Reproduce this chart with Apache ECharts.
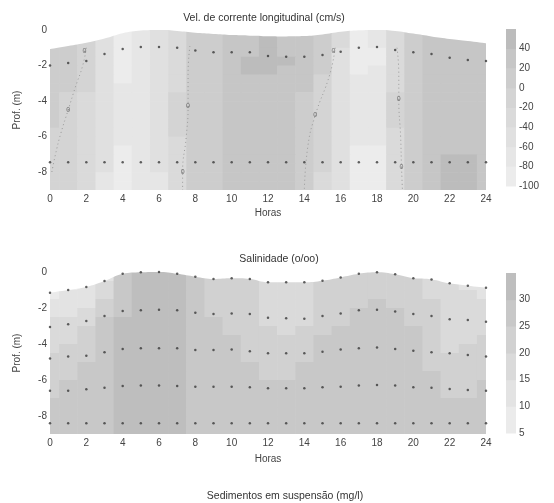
<!DOCTYPE html>
<html>
<head>
<meta charset="utf-8">
<script src="https://cdn.jsdelivr.net/npm/echarts@6/dist/echarts.min.js"></script>
<style>
    html, body { margin: 0; padding: 0; background: #fff; }
    #chart { width: 554px; height: 503px; }
</style>
</head>
<body>
<div id="chart"></div>
<script>
const hours = [0, 1, 2, 3, 4, 5, 6, 7, 8, 9, 10, 11, 12, 13, 14, 15, 16, 17, 18, 19, 20, 21, 22, 23, 24]
// cell centre depths (m), 0.5 m cells
const cellDepths = [-0.25, -0.75, -1.25, -1.75, -2.25, -2.75, -3.25, -3.75, -4.25, -4.75, -5.25, -5.75, -6.25, -6.75, -7.25, -7.75, -8.25, -8.75]
const depthTicks = [0, -2, -4, -6, -8]

// Vel. de corrente longitudinal (cm/s), rows = cellDepths, cols = hours
const velGrid = [
    [10, 6, -8, -48, -85, -76, -56, -28, 5, 18, 28, 38, 40, 38, 28, 4, -40, -85, -80, -30, 10, 24, 32, 30, 26],
    [10, 6, -8, -48, -85, -76, -56, -28, 5, 18, 28, 38, 40, 38, 28, 4, -40, -85, -80, -30, 10, 24, 32, 30, 26],
    [10, 6, -8, -49, -86, -77, -57, -28, 5, 18, 28, 39, 42, 39, 28, 3, -41, -86, -81, -30, 11, 24, 33, 31, 27],
    [10, 5, -10, -50, -88, -78, -58, -28, 5, 18, 28, 41, 44, 40, 28, 2, -42, -88, -82, -30, 12, 25, 35, 33, 28],
    [10, 5, -12, -50, -86, -77, -57, -27, 5, 18, 27, 40, 43, 39, 27, 1, -43, -85, -80, -29, 12, 25, 34, 32, 27],
    [9, 2, -16, -51, -82, -74, -55, -25, 5, 17, 26, 36, 38, 35, 24, -2, -44, -80, -76, -26, 13, 24, 32, 30, 26],
    [8, 0, -20, -52, -75, -70, -52, -22, 5, 16, 25, 32, 35, 32, 20, -5, -45, -72, -70, -22, 14, 24, 30, 28, 25],
    [6, -3, -24, -54, -70, -67, -50, -20, 5, 15, 24, 30, 32, 30, 16, -9, -48, -69, -67, -20, 15, 24, 28, 26, 24],
    [3, -8, -28, -55, -68, -65, -48, -18, 5, 15, 24, 28, 30, 28, 12, -12, -50, -68, -66, -18, 15, 24, 28, 26, 24],
    [2, -9, -28, -55, -68, -65, -48, -18, 5, 15, 24, 28, 30, 28, 12, -13, -50, -68, -66, -18, 15, 24, 28, 26, 24],
    [0, -10, -29, -56, -70, -66, -49, -19, 5, 15, 24, 27, 29, 27, 11, -14, -51, -70, -68, -20, 15, 24, 29, 27, 25],
    [-2, -12, -30, -57, -74, -69, -50, -20, 4, 14, 23, 26, 28, 26, 10, -16, -53, -74, -72, -22, 15, 25, 31, 29, 26],
    [-5, -15, -32, -58, -80, -72, -52, -22, 3, 14, 22, 25, 27, 25, 8, -18, -55, -78, -76, -25, 15, 26, 34, 32, 28],
    [-8, -17, -33, -59, -85, -77, -57, -24, 2, 13, 21, 23, 26, 23, 7, -19, -56, -84, -82, -30, 16, 28, 38, 38, 32],
    [-10, -18, -34, -60, -88, -80, -60, -26, 2, 12, 20, 22, 25, 22, 6, -20, -57, -88, -86, -33, 17, 29, 42, 42, 35],
    [-10, -18, -34, -60, -88, -80, -60, -26, 2, 12, 20, 22, 25, 22, 6, -20, -57, -88, -86, -33, 17, 29, 42, 42, 35],
    [-12, -20, -35, -62, -86, -80, -62, -28, 2, 12, 20, 22, 25, 22, 6, -22, -58, -86, -84, -35, 18, 30, 42, 42, 34],
    [-12, -20, -35, -62, -84, -78, -62, -28, 2, 12, 20, 22, 25, 22, 6, -22, -58, -84, -82, -35, 18, 30, 40, 40, 33]
]

// Salinidade (o/oo)
const salGrid = [
    [8, 8, 10, 14, 28, 32, 32, 31, 26, 24, 23, 22, 19, 18, 18, 20, 22, 23, 24, 23, 21, 19, 16, 14, 13],
    [8, 9, 11, 15, 28, 32, 32, 31, 26, 24, 23, 22, 19, 18, 18, 20, 22, 23, 24, 23, 21, 19, 16, 14, 13],
    [9, 10, 12, 17, 28, 32, 32, 31, 26, 24, 23, 22, 19, 18, 18, 20, 22, 23, 24, 23, 21, 19, 16, 15, 14],
    [11, 12, 14, 20, 28, 32, 32, 31, 26, 24, 23, 22, 19, 17, 18, 20, 22, 24, 25, 24, 22, 20, 16, 15, 15],
    [13, 14, 17, 23, 29, 32, 32, 31, 26, 24, 23, 22, 19, 17, 18, 21, 23, 25, 26, 25, 23, 21, 17, 16, 16],
    [15, 16, 19, 25, 30, 32, 32, 31, 26, 25, 24, 22, 19, 18, 19, 22, 24, 26, 26, 26, 24, 22, 18, 17, 17],
    [16, 18, 21, 26, 31, 32, 32, 31, 27, 25, 24, 22, 20, 19, 21, 24, 26, 27, 27, 27, 25, 22, 18, 18, 18],
    [18, 19, 22, 27, 31, 32, 32, 31, 27, 26, 25, 23, 21, 20, 22, 25, 27, 27, 28, 27, 26, 23, 19, 19, 20],
    [19, 21, 23, 27, 31, 32, 32, 31, 28, 26, 25, 23, 21, 21, 23, 26, 27, 28, 28, 28, 26, 23, 19, 20, 21],
    [20, 22, 24, 27, 31, 32, 32, 31, 28, 27, 26, 24, 22, 22, 24, 26, 27, 28, 28, 28, 27, 24, 20, 21, 22],
    [21, 23, 25, 28, 31, 32, 32, 31, 28, 27, 26, 25, 23, 23, 25, 26, 28, 28, 28, 28, 27, 24, 21, 22, 23],
    [22, 24, 26, 28, 31, 32, 32, 31, 28, 27, 27, 26, 24, 24, 25, 27, 28, 28, 28, 28, 27, 25, 22, 23, 24],
    [23, 25, 26, 27, 31, 32, 32, 31, 29, 28, 27, 27, 25, 25, 26, 27, 28, 28, 28, 28, 27, 25, 22, 23, 25],
    [24, 25, 27, 28, 31, 32, 32, 31, 29, 28, 28, 27, 26, 26, 27, 27, 28, 28, 28, 28, 27, 26, 23, 24, 25],
    [25, 26, 27, 28, 31, 32, 32, 31, 29, 28, 28, 27, 27, 27, 27, 28, 28, 28, 28, 28, 28, 26, 25, 25, 26],
    [26, 26, 27, 28, 31, 32, 32, 31, 29, 28, 28, 28, 27, 27, 27, 28, 28, 29, 29, 28, 28, 27, 26, 26, 26],
    [26, 27, 28, 29, 31, 32, 32, 31, 29, 28, 28, 28, 27, 27, 27, 28, 28, 29, 29, 28, 28, 27, 26, 26, 27],
    [26, 27, 28, 29, 31, 32, 32, 31, 29, 28, 28, 28, 28, 27, 28, 28, 28, 29, 29, 28, 28, 27, 27, 27, 27]
]

// water surface (top of the shaded field)
const velSurface = [-1.07, -0.9, -0.72, -0.48, -0.18, -0.03, 0, -0.05, -0.15, -0.22, -0.28, -0.32, -0.35, -0.36, -0.34, -0.25, -0.1, -0.02, 0, -0.05, -0.2, -0.36, -0.5, -0.62, -0.75]
const salSurface = [-1.15, -1.0, -0.83, -0.5, -0.1, -0.02, 0, -0.1, -0.26, -0.39, -0.35, -0.39, -0.57, -0.57, -0.57, -0.48, -0.3, -0.1, -0.02, -0.13, -0.35, -0.41, -0.63, -0.76, -0.87]

// sampling points
const velTopDepths = [-2.0, -1.86, -1.75, -1.35, -1.07, -0.96, -0.96, -1.0, -1.15, -1.25, -1.25, -1.25, -1.46, -1.5, -1.5, -1.4, -1.23, -1.0, -0.96, -1.13, -1.25, -1.35, -1.56, -1.69, -1.75]
const velBottomDepths = [-7.44, -7.44, -7.44, -7.44, -7.44, -7.44, -7.44, -7.44, -7.44, -7.44, -7.44, -7.44, -7.44, -7.44, -7.44, -7.44, -7.44, -7.44, -7.44, -7.44, -7.44, -7.44, -7.44, -7.44, -7.44]
const salRow2 = [-3.05, -2.9, -2.72, -2.44, -2.17, -2.13, -2.1, -2.13, -2.26, -2.33, -2.3, -2.33, -2.54, -2.57, -2.6, -2.44, -2.3, -2.13, -2.1, -2.2, -2.33, -2.44, -2.63, -2.67, -2.76]
const salRow3 = [-4.8, -4.7, -4.65, -4.46, -4.28, -4.24, -4.24, -4.24, -4.33, -4.33, -4.3, -4.4, -4.52, -4.52, -4.52, -4.43, -4.3, -4.24, -4.2, -4.28, -4.37, -4.46, -4.52, -4.61, -4.7]
const salRow4 = [-6.6, -6.6, -6.52, -6.43, -6.33, -6.3, -6.3, -6.33, -6.37, -6.37, -6.37, -6.4, -6.46, -6.46, -6.46, -6.4, -6.37, -6.3, -6.28, -6.3, -6.4, -6.43, -6.5, -6.56, -6.6]
const salRow5 = [-8.4, -8.4, -8.4, -8.4, -8.4, -8.4, -8.4, -8.4, -8.4, -8.4, -8.4, -8.4, -8.4, -8.4, -8.4, -8.4, -8.4, -8.4, -8.4, -8.4, -8.4, -8.4, -8.4, -8.4, -8.4]

// zero-velocity contour lines (dotted) and their labels
const zeroLine1 = [[2.0, -1.0], [1.8, -2.0], [1.4, -3.2], [1.0, -4.5], [0.6, -5.8], [0.3, -7.0], [0.1, -8.0]]
const zeroLine2 = [[7.7, -0.9], [7.6, -2.5], [7.6, -4.3], [7.5, -6.0], [7.3, -8.0], [7.3, -9.0]]
const zeroLine3 = [[15.7, -1.0], [15.4, -2.5], [14.6, -4.8], [14.2, -6.5], [14.0, -9.0]]
const zeroLine4 = [[19.1, -1.0], [19.2, -2.5], [19.2, -3.9], [19.3, -6.0], [19.35, -7.7], [19.4, -9.0]]
const contourLabels = [[1.0, -4.5], [1.9, -1.2], [7.6, -4.3], [7.3, -8.0], [14.6, -4.8], [15.6, -1.2], [19.2, -3.9], [19.35, -7.7]]

const velLevels = [-100, -80, -60, -40, -20, 0, 20, 40, 60]
const velColors = ['#ececec', '#e6e6e6', '#e0e0e0', '#dadada', '#d4d4d4', '#cdcdcd', '#c6c6c6', '#bcbcbc']
const velTicks = [40, 20, 0, -20, -40, -60, -80, -100]
const salLevels = [5, 10, 15, 20, 25, 30, 35]
const salColors = ['#ebebeb', '#e3e3e3', '#dadada', '#d1d1d1', '#c8c8c8', '#bebebe']
const salTicks = [30, 25, 20, 15, 10, 5]

const fontFamily = '"Liberation Sans", Arial, sans-serif'
const textColor = '#444'

const bandColor = (v, levels, colors) => {
    for (let i = 0; i < colors.length; i++) {
        if (v < levels[i + 1]) return colors[i]
    }
    return colors[colors.length - 1]
}

// shaded field, one rect per cell
const fieldSeries = (grid, levels, colors, axis) => {
    const data = []
    grid.forEach((row, r) => row.forEach((v, c) => data.push([hours[c], cellDepths[r], v])))
    return {
        type: 'custom', xAxisIndex: axis, yAxisIndex: axis, clip: true, silent: true, z: 1,
        data,
        renderItem: (params, api) => {
            const h = api.value(0), d = api.value(1)
            const p0 = api.coord([Math.max(0, h - 0.5), d + 0.25])
            const p1 = api.coord([Math.min(24, h + 0.5), d - 0.25])
            return {
                type: 'rect',
                shape: { x: p0[0], y: p0[1], width: p1[0] - p0[0] + 0.6, height: p1[1] - p0[1] + 0.6 },
                style: { fill: bandColor(api.value(2), levels, colors) }
            }
        }
    }
}

// colour bar as stacked bands
const barSeries = (levels, colors, axis) => ({
    type: 'custom', xAxisIndex: axis, yAxisIndex: axis, silent: true,
    data: colors.map((c, i) => [levels[i], levels[i + 1], i]),
    renderItem: (params, api) => {
        const p0 = api.coord([0, api.value(1)])
        const p1 = api.coord([1, api.value(0)])
        return {
            type: 'rect',
            shape: { x: p0[0], y: p0[1], width: p1[0] - p0[0], height: p1[1] - p0[1] + 0.5 },
            style: { fill: colors[api.value(2)] }
        }
    }
})

const maskSeries = (surface, axis) => ({
    type: 'line', xAxisIndex: axis, yAxisIndex: axis, silent: true, z: 3,
    data: hours.map((h, i) => [h, surface[i]]),
    smooth: 0.4, symbol: 'none',
    lineStyle: { width: 0 },
    areaStyle: { color: '#fff', opacity: 1, origin: 'end' }
})

const pointSeries = (depths, axis) => ({
    type: 'scatter', xAxisIndex: axis, yAxisIndex: axis, silent: true, z: 5,
    data: hours.map((h, i) => [h, depths[i]]),
    symbolSize: 2.5,
    itemStyle: { color: '#3a3a3a' }
})

const zeroLineSeries = (pts) => ({
    type: 'line', xAxisIndex: 0, yAxisIndex: 0, silent: true, z: 4,
    data: pts, smooth: true, symbol: 'none',
    lineStyle: { color: '#9a9a9a', width: 1, type: [1, 3] }
})

const mainX = (gridIndex, gap) => ({
    gridIndex, type: 'value', min: 0, max: 24, interval: 2,
    name: 'Horas', nameLocation: 'middle', nameGap: gap,
    nameTextStyle: { color: textColor, fontSize: 10, fontFamily },
    axisLine: { show: false }, axisTick: { show: false }, splitLine: { show: false },
    axisLabel: { color: textColor, fontSize: 10, fontFamily, margin: 4 }
})
const mainY = (gridIndex) => ({
    gridIndex, type: 'value', min: -9, max: 0,
    name: 'Prof. (m)', nameLocation: 'middle', nameGap: 28,
    nameTextStyle: { color: textColor, fontSize: 10, fontFamily },
    axisLine: { show: false }, axisTick: { show: false }, splitLine: { show: false },
    axisLabel: { color: textColor, fontSize: 10, fontFamily, margin: 3, customValues: depthTicks }
})
const barX = (gridIndex) => ({
    gridIndex, type: 'value', min: 0, max: 1, show: false
})
const barY = (gridIndex, min, max, ticks) => ({
    gridIndex, type: 'value', min, max, position: 'right',
    axisLine: { show: false }, axisTick: { show: false }, splitLine: { show: false },
    axisLabel: { color: textColor, fontSize: 10, fontFamily, margin: 3, customValues: ticks }
})

const titleStyle = { fontSize: 10.5, fontWeight: 'normal', color: '#333', fontFamily }

const chart = echarts.init(document.getElementById('chart'))
chart.setOption({
    animation: false,
    backgroundColor: '#fff',
    title: [
        { text: 'Vel. de corrente longitudinal (cm/s)', left: 259, top: 8, textAlign: 'center', textStyle: titleStyle },
        { text: 'Salinidade (o/oo)', left: 274, top: 249, textAlign: 'center', textStyle: titleStyle },
        { text: 'Sedimentos em suspensão (mg/l)', left: 280, top: 486, textAlign: 'center', textStyle: titleStyle }
    ],
    grid: [
        { left: 50, top: 30, width: 436, height: 160 },
        { left: 506, top: 29, width: 10, height: 157 },
        { left: 50, top: 272, width: 436, height: 162 },
        { left: 506, top: 273, width: 10, height: 160 }
    ],
    xAxis: [mainX(0, 18), barX(1), mainX(2, 20), barX(3)],
    yAxis: [mainY(0), barY(1, -100, 60, velTicks), mainY(2), barY(3, 5, 35, salTicks)],
    series: [
        fieldSeries(velGrid, velLevels, velColors, 0),
        maskSeries(velSurface, 0),
        zeroLineSeries(zeroLine1),
        zeroLineSeries(zeroLine2),
        zeroLineSeries(zeroLine3),
        zeroLineSeries(zeroLine4),
        pointSeries(velTopDepths, 0),
        pointSeries(velBottomDepths, 0),
        {
            type: 'scatter', xAxisIndex: 0, yAxisIndex: 0, silent: true, z: 6,
            data: contourLabels, symbolSize: 1,
            itemStyle: { color: '#555' },
            label: { show: true, position: 'inside', formatter: '0', fontSize: 7, color: '#555', fontFamily }
        },
        barSeries(velLevels, velColors, 1),
        fieldSeries(salGrid, salLevels, salColors, 2),
        maskSeries(salSurface, 2),
        pointSeries(salSurface, 2),
        pointSeries(salRow2, 2),
        pointSeries(salRow3, 2),
        pointSeries(salRow4, 2),
        pointSeries(salRow5, 2),
        barSeries(salLevels, salColors, 3)
    ]
})
</script>
</body>
</html>
